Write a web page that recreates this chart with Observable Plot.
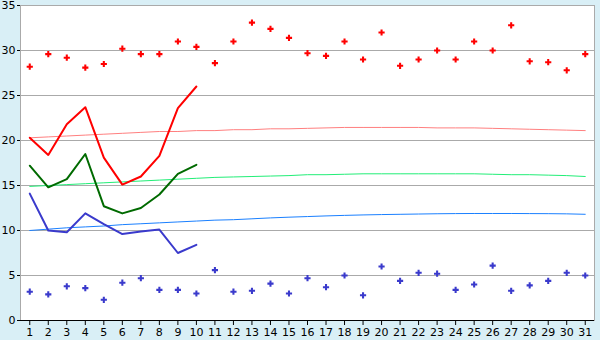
<!DOCTYPE html>
<html>
<head>
<meta charset="utf-8">
<script src="https://cdn.jsdelivr.net/npm/d3@7"></script>
<script src="https://cdn.jsdelivr.net/npm/@observablehq/plot@0.6"></script>
<style>
  html, body { margin: 0; padding: 0; background: #d9eff6; }
  #chart svg { display: block; }
</style>
</head>
<body>
<div id="chart"></div>
<script>
const days = d3.range(1, 32);
const recordMax = [28.2, 29.6, 29.2, 28.1, 28.5, 30.2, 29.6, 29.6, 31.0, 30.4, 28.6, 31.0, 33.1, 32.4, 31.4, 29.7, 29.4, 31.0, 29.0, 32.0, 28.3, 29.0, 30.0, 29.0, 31.0, 30.0, 32.8, 28.8, 28.7, 27.8, 29.6];
const recordMin = [3.2, 2.9, 3.8, 3.6, 2.3, 4.2, 4.7, 3.4, 3.4, 3.0, 5.6, 3.2, 3.3, 4.1, 3.0, 4.7, 3.7, 5.0, 2.8, 6.0, 4.4, 5.3, 5.2, 3.4, 4.0, 6.1, 3.3, 3.9, 4.4, 5.3, 5.0];
const obsMax = [20.3, 18.4, 21.8, 23.7, 18.1, 15.1, 16.0, 18.3, 23.6, 26.0];
const obsMean = [17.2, 14.8, 15.7, 18.5, 12.7, 11.9, 12.5, 14.0, 16.3, 17.3];
const obsMin = [14.1, 10.0, 9.8, 11.9, 10.7, 9.6, 9.9, 10.1, 7.5, 8.4];
const normMax = [20.3, 20.4, 20.5, 20.6, 20.7, 20.8, 20.9, 21.0, 21.0, 21.1, 21.1, 21.2, 21.2, 21.3, 21.3, 21.35, 21.4, 21.45, 21.45, 21.45, 21.45, 21.45, 21.4, 21.4, 21.4, 21.35, 21.3, 21.25, 21.2, 21.15, 21.1];
const normMean = [14.9, 15.0, 15.1, 15.2, 15.3, 15.4, 15.5, 15.6, 15.7, 15.8, 15.9, 15.95, 16.0, 16.05, 16.1, 16.2, 16.2, 16.25, 16.3, 16.3, 16.3, 16.3, 16.3, 16.3, 16.3, 16.25, 16.2, 16.2, 16.15, 16.1, 16.0];
const normMin = [10.0, 10.15, 10.3, 10.4, 10.5, 10.65, 10.75, 10.85, 10.95, 11.05, 11.15, 11.2, 11.3, 11.4, 11.48, 11.55, 11.62, 11.68, 11.73, 11.77, 11.8, 11.83, 11.86, 11.88, 11.89, 11.89, 11.89, 11.88, 11.87, 11.85, 11.8];
const yTicks = [0, 5, 10, 15, 20, 25, 30, 35];
const gridVals = [5, 10, 15, 20, 25, 30];

const series = (arr) => arr.map((v, i) => ({day: days[i], v}));

const chart = Plot.plot({
  width: 600,
  height: 340,
  marginLeft: 20,
  marginTop: 5,
  marginRight: 6,
  marginBottom: 20,
  style: {background: "transparent", fontFamily: "DejaVu Sans, sans-serif", fontSize: "10px", color: "black"},
  x: {type: "linear", domain: [0.5, 31.5], axis: null},
  y: {domain: [0, 35], axis: null},
  marks: [
    Plot.frame({fill: "white", stroke: "#aaaaaa"}),
    Plot.ruleY(gridVals, {stroke: "#aaaaaa", strokeWidth: 1}),
    Plot.lineY(series(normMax), {x: "day", y: "v", stroke: "#ff7f7f", strokeWidth: 1}),
    Plot.lineY(series(normMean), {x: "day", y: "v", stroke: "#22ee77", strokeWidth: 1}),
    Plot.lineY(series(normMin), {x: "day", y: "v", stroke: "#1a80ff", strokeWidth: 1}),
    Plot.lineY(series(obsMax), {x: "day", y: "v", stroke: "#ff0000", strokeWidth: 2}),
    Plot.lineY(series(obsMean), {x: "day", y: "v", stroke: "#006a00", strokeWidth: 2}),
    Plot.lineY(series(obsMin), {x: "day", y: "v", stroke: "#3a3acc", strokeWidth: 2}),
    Plot.dot(series(recordMax), {x: "day", y: "v", symbol: "cross", r: 2.6, fill: "#ff0000", stroke: "none"}),
    Plot.dot(series(recordMin), {x: "day", y: "v", symbol: "cross", r: 2.6, fill: "#3a3acc", stroke: "none"}),
    Plot.ruleY([0], {stroke: "black", strokeWidth: 1}),
    Plot.axisY(yTicks, {label: null, tickSize: 3, tickPadding: 2, stroke: "black", fill: "black", fontSize: 11}),
    Plot.axisX(days, {label: null, tickSize: 5, tickPadding: 3, stroke: "black", fill: "black", fontSize: 11})
  ]
});
document.getElementById("chart").appendChild(chart);
</script>
</body>
</html>
